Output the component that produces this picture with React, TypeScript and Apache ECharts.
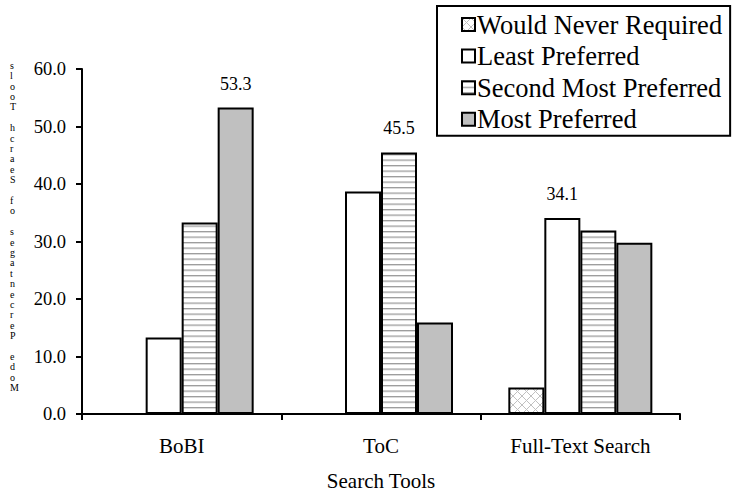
import React, { useEffect, useRef } from 'react';
import * as echarts from 'echarts';

const categories = ['BoBI', 'ToC', 'Full-Text Search'];
const seriesNames = ['Would Never Required', 'Least Preferred', 'Second Most Preferred', 'Most Preferred'];
const neverRequired: (number | null)[] = [null, null, 4.6];
const leastPreferred: (number | null)[] = [13.3, 38.7, 34.1];
const secondMostPreferred: (number | null)[] = [33.3, 45.5, 31.9];
const mostPreferred: (number | null)[] = [53.3, 15.9, 29.8];
const yMin = 0;
const yMax = 60;
const yInterval = 10;
const yAxisTitle = 'Mode Percentages of Search Tools';
const xAxisTitle = 'Search Tools';

const FONT = 'Liberation Serif, Times New Roman, serif';

const svgUrl = (s: string) => 'data:image/svg+xml;charset=utf-8,' + encodeURIComponent(s);

const stripeImg = svgUrl(
  "<svg xmlns='http://www.w3.org/2000/svg' width='6' height='5.5'><rect width='6' height='5.5' fill='#ffffff'/><rect x='0' y='0' width='6' height='1.3' fill='#9a9a9a'/></svg>"
);
const crossImg = svgUrl(
  "<svg xmlns='http://www.w3.org/2000/svg' width='9' height='9'><rect width='9' height='9' fill='#ffffff'/><path d='M0 0L9 9M9 0L0 9' stroke='#c0c0c0' stroke-width='1'/></svg>"
);

const fills: any[] = [
  { image: crossImg, repeat: 'repeat', imageWidth: 9, imageHeight: 9 },
  '#ffffff',
  { image: stripeImg, repeat: 'repeat', imageWidth: 6, imageHeight: 5.5 },
  '#c0c0c0',
];

export default function App() {
  const ref = useRef<HTMLDivElement>(null);
  useEffect(() => {
    document.body.style.margin = '0';
    if (!ref.current) return;
    const chart = echarts.init(ref.current, null, { renderer: 'svg' });
    const all = [neverRequired, leastPreferred, secondMostPreferred, mostPreferred];
    const maxIdx = categories.map((_, ci) => {
      let best = -1;
      let bv = -Infinity;
      all.forEach((arr, si) => {
        const v = arr[ci];
        if (v != null && v > bv) {
          bv = v;
          best = si;
        }
      });
      return best;
    });
    const series = all.map((arr, si) => ({
      name: seriesNames[si],
      type: 'bar',
      barWidth: 36,
      barGap: '0%',
      itemStyle: { color: fills[si], borderColor: '#000', borderWidth: 2 },
      data: arr.map((v, ci) => ({
        value: v == null ? '-' : v,
        label: {
          show: maxIdx[ci] === si,
          position: 'top',
          distance: 15,
          formatter: (p: any) => Number(p.value).toFixed(1),
          fontFamily: FONT,
          fontSize: 18,
          color: '#000',
        },
      })),
    }));
    const verticalTitle = yAxisTitle.split('').reverse().join('\n');
    chart.setOption({
      animation: false,
      backgroundColor: '#ffffff',
      textStyle: { fontFamily: FONT },
      grid: { left: 82, right: 55, top: 69, bottom: 79, containLabel: false, outerBoundsMode: 'none' },
      legend: {
        orient: 'vertical',
        left: 437,
        top: 6,
        padding: [5, 8, 3, 24],
        borderColor: '#000',
        borderWidth: 2,
        itemWidth: 13,
        itemHeight: 13,
        itemGap: 4.6,
        icon: 'rect',
        textStyle: { fontFamily: FONT, fontSize: 26.5, color: '#000', lineHeight: 25, padding: [0, 0, 0, -3] },
        data: seriesNames,
      },
      xAxis: {
        type: 'category',
        data: categories,
        name: xAxisTitle,
        nameLocation: 'middle',
        nameGap: 56,
        nameTextStyle: { fontFamily: FONT, fontSize: 21, color: '#000' },
        axisLine: { show: true, lineStyle: { color: '#000', width: 2 } },
        axisTick: { show: true, length: 6, lineStyle: { color: '#000', width: 2 } },
        axisLabel: { fontFamily: FONT, fontSize: 21, color: '#000', margin: 21 },
      },
      yAxis: {
        type: 'value',
        min: yMin,
        max: yMax,
        interval: yInterval,
        axisLine: { show: true, lineStyle: { color: '#000', width: 2 } },
        axisTick: { show: true, length: 6, lineStyle: { color: '#000', width: 2 } },
        splitLine: { show: false },
        axisLabel: {
          fontFamily: FONT,
          fontSize: 18.5,
          color: '#000',
          margin: 16,
          formatter: (v: number) => v.toFixed(1),
        },
      },
      graphic: [
        {
          type: 'text',
          left: 10,
          top: 60,
          style: {
            text: verticalTitle,
            fontFamily: FONT,
            fontSize: 10,
            lineHeight: 10.4,
            fill: '#000',
            align: 'center',
          },
        },
      ],
      series,
    });
    return () => chart.dispose();
  }, []);
  return <div ref={ref} style={{ width: 735, height: 493 }} />;
}
